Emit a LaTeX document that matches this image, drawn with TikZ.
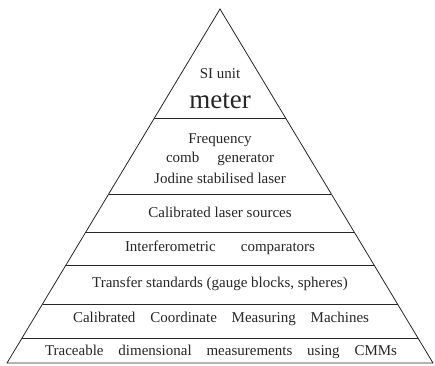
\documentclass[tikz,border=0pt]{standalone}
\usepackage{fontspec}
\setmainfont{Liberation Serif}
\newfontfamily\tms{Liberation Serif}
\usetikzlibrary{calc}
\tikzset{
  edge/.style={line width=0.8pt, draw=black!85},
  lvl/.style={inner sep=0pt, font=\tms\fontsize{15}{19}\selectfont, align=center, text=black!85},
}
\begin{document}
\begin{tikzpicture}[x=1pt,y=-1pt]
\useasboundingbox (0,0) rectangle (435,365);
\coordinate (apex) at (220,9);
\coordinate (bl) at (7,363);
\coordinate (br) at (433,363);
\draw[edge] (bl) -- (apex) -- (br) -- cycle;
\foreach \y/\n in {118/a,194/b,232/c,265/d,304/e,338/f}{
  \pgfmathsetmacro{\t}{(\y-9)/354}
  \coordinate (l\n) at ($(apex)!\t!(bl)$);
  \coordinate (r\n) at ($(apex)!\t!(br)$);
  \draw[edge] (l\n) -- (r\n);
}
\node[lvl] (si) at (220,74) {SI unit};
\node[lvl, font=\tms\fontsize{27}{30}\selectfont, anchor=base] (meter) at (220,108) {meter};
\node[lvl] (freq) at (220,140) {Frequency};
\node[lvl] (comb) at (220,159) {\makebox[108pt][s]{comb generator}};
\node[lvl] (jod) at (220,178) {Jodine stabilised laser};
\node[lvl] (cal) at (220,212) {Calibrated laser sources};
\node[lvl] (int) at (220,248) {\makebox[190pt][s]{Interferometric comparators}};
\node[lvl] (tra) at (220,284) {Transfer standards (gauge blocks, spheres)};
\node[lvl] (cmm) at (221,319) {\makebox[296pt][s]{Calibrated Coordinate Measuring Machines}};
\node[lvl] (trc) at (221,352) {\makebox[352pt][s]{Traceable dimensional measurements using CMMs}};
\end{tikzpicture}
\end{document}
